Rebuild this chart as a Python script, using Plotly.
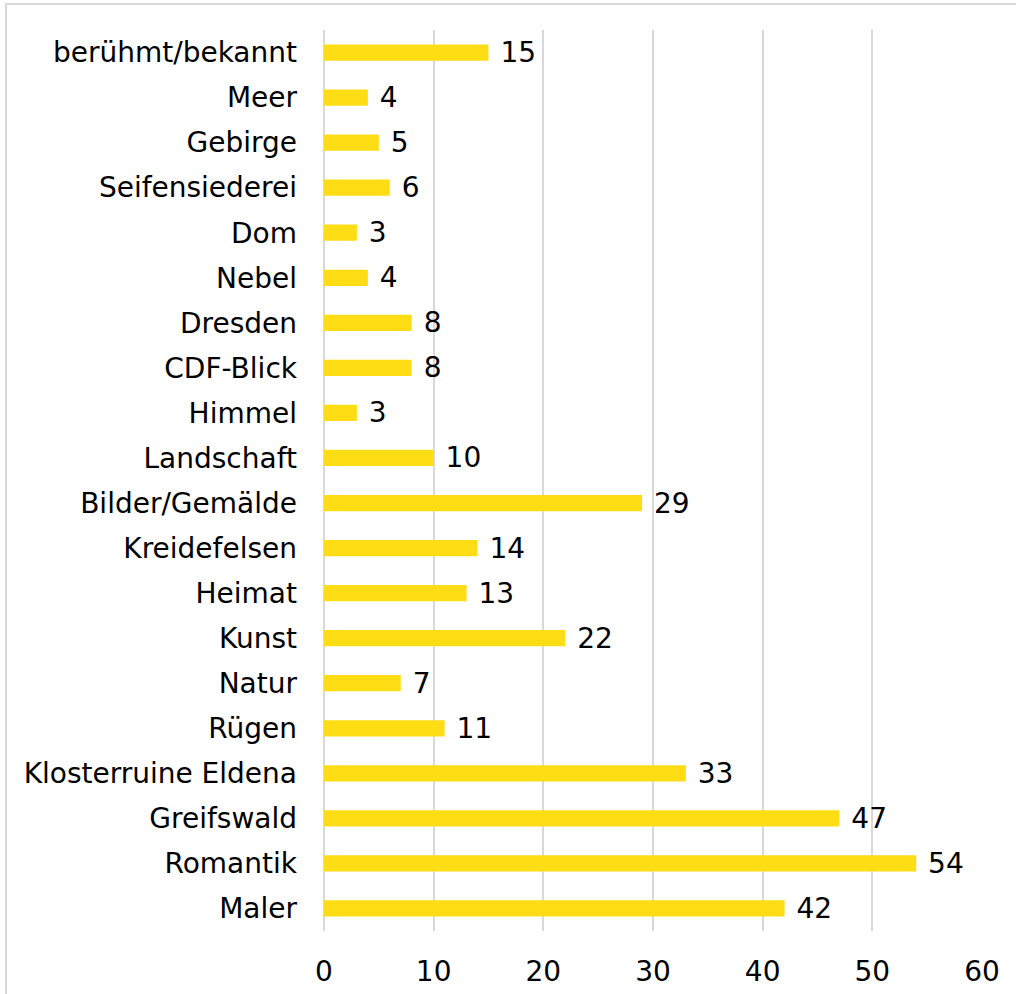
import plotly.graph_objects as go

categories = ["Maler", "Romantik", "Greifswald", "Klosterruine Eldena", "Rügen", "Natur",
              "Kunst", "Heimat", "Kreidefelsen", "Bilder/Gemälde", "Landschaft", "Himmel",
              "CDF-Blick", "Dresden", "Nebel", "Dom", "Seifensiederei", "Gebirge", "Meer",
              "berühmt/bekannt"]
values = [42, 54, 47, 33, 11, 7, 22, 13, 14, 29, 10, 3, 8, 8, 4, 3, 6, 5, 4, 15]
x_ticks = [0, 10, 20, 30, 40, 50, 60]

W, H = 1016, 994
FONT = "DejaVu Sans"
FS = 28

fig = go.Figure(go.Bar(
    x=values, y=categories, orientation="h",
    marker=dict(color="#FFDD15", line=dict(width=0)),
    width=0.36,
    text=["\u00a0" + str(v) for v in values], textposition="outside",
    constraintext="none",
    textfont=dict(family=FONT, size=FS, color="#000000"),
    cliponaxis=False,
))

ml, mr, mt, mb = 324, 34, 30, 63
fig.update_layout(
    width=W, height=H,
    margin=dict(l=ml, r=mr, t=mt, b=mb, autoexpand=False),
    paper_bgcolor="white", plot_bgcolor="white",
    font=dict(family=FONT, size=FS, color="#000000"),
    showlegend=False,
    xaxis=dict(range=[0, 60], tickvals=x_ticks, showgrid=True, gridcolor="#d9d9d9",
               gridwidth=1.5, zeroline=True, zerolinecolor="#d9d9d9", zerolinewidth=1.5,
               showline=False, ticks="", ticklabelstandoff=21, automargin=False,
               tickfont=dict(family=FONT, size=FS)),
    yaxis=dict(categoryorder="array", categoryarray=categories, showgrid=False,
               zeroline=False, showline=False, ticks="", ticklabelstandoff=26,
               automargin=False,
               tickfont=dict(family=FONT, size=FS), range=[-0.5, 19.5]),
    shapes=[dict(type="rect", xref="paper", yref="paper",
                 x0=(6 - ml) / (W - ml - mr), x1=(1030 - ml) / (W - ml - mr),
                 y0=(H - mb - 1010) / (H - mt - mb), y1=(H - mb - 4) / (H - mt - mb),
                 line=dict(color="#d9d9d9", width=2), layer="below")],
)

fig.write_html("out.html", config={"displayModeBar": False},
               post_script="document.body.style.margin='0';")
